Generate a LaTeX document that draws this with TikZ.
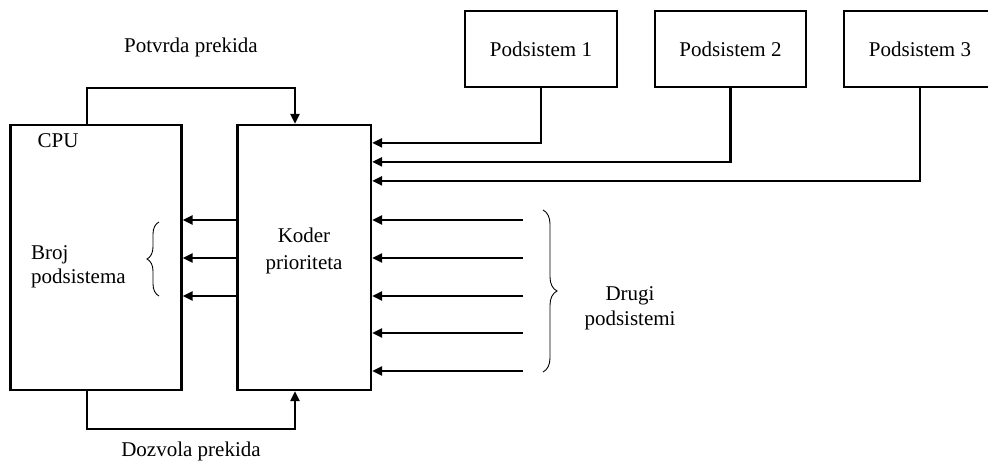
\documentclass[tikz,border=0pt]{standalone}
\usepackage{fontspec}
\setmainfont{Liberation Serif}
\usetikzlibrary{arrows.meta,calc,decorations.pathreplacing}
\begin{document}
\begin{tikzpicture}[x=1pt,y=-1pt,
  font=\fontsize{21}{24}\selectfont,
  block/.style={draw,line width=2.2pt,inner sep=0pt},
  wire/.style={line width=2.2pt},
  arr/.style={wire,-{Triangle[length=10pt,width=9pt]}},
  lbl/.style={inner sep=0pt,align=center},
  grp/.style={decorate,decoration={brace,amplitude=#1},line width=0.9pt},
]
\clip (0,0) rectangle (988,461);

% main blocks
\node[block,minimum width=171pt,minimum height=265pt] (cpu) at (96,257.5) {};
\node[block,minimum width=133.5pt,minimum height=265pt] (koder) at (304.25,257.5) {};
\node[block,minimum width=152pt,minimum height=76pt] (p1) at (541,49) {Podsistem 1};
\node[block,minimum width=151pt,minimum height=76pt] (p2) at (730.5,49) {Podsistem 2};
\node[block,minimum width=152pt,minimum height=76pt] (p3) at (920,49) {Podsistem 3};

% labels
\node[lbl] (cpulbl) at (58,141) {CPU};
\node[lbl,align=left,anchor=west] (broj) at (31,267) {Broj\\podsistema};
\node[lbl,font=\fontsize{21}{27}\selectfont] (koderlbl) at (304,251) {Koder\\prioriteta};
\node[lbl,font=\fontsize{21}{25}\selectfont] (drugi) at (630,308) {Drugi\\podsistemi};
\node[lbl] (potvrda) at (191,47) {Potvrda prekida};
\node[lbl] (dozvola) at (191,451) {Dozvola prekida};

% interrupt acknowledge and enable loops
\coordinate (ackL) at (87,88);
\coordinate (ackR) at (295,88);
\coordinate (enL) at (87,429);
\coordinate (enR) at (295,429);
\draw[arr] (cpu.north -| ackL) -- (ackL) -- (ackR) -- (koder.north -| ackR);
\draw[arr] (cpu.south -| enL) -- (enL) -- (enR) -- (koder.south -| enR);

% subsystem request lines
\draw[arr] (p1.south) |- ($(koder.north east)+(0,19)$);
\draw[arr] (p2.south) |- ($(koder.north east)+(0,38)$);
\draw[arr] (p3.south) |- ($(koder.north east)+(0,57)$);

% other subsystem inputs
\foreach \yy [count=\i] in {220,258,296,333,371} {
  \coordinate (in\i) at (523,\yy);
  \draw[arr] (in\i) -- (koder.east |- in\i);
}

% subsystem number outputs
\foreach \yy [count=\i] in {220,258,296} {
  \coordinate (out\i) at (237.5,\yy);
  \draw[arr] (out\i) -- (cpu.east |- out\i);
}

% braces
\draw[grp=12pt] (159,296) -- (159,222);
\draw[grp=14pt] (543,210) -- (543,372);
\end{tikzpicture}
\end{document}
